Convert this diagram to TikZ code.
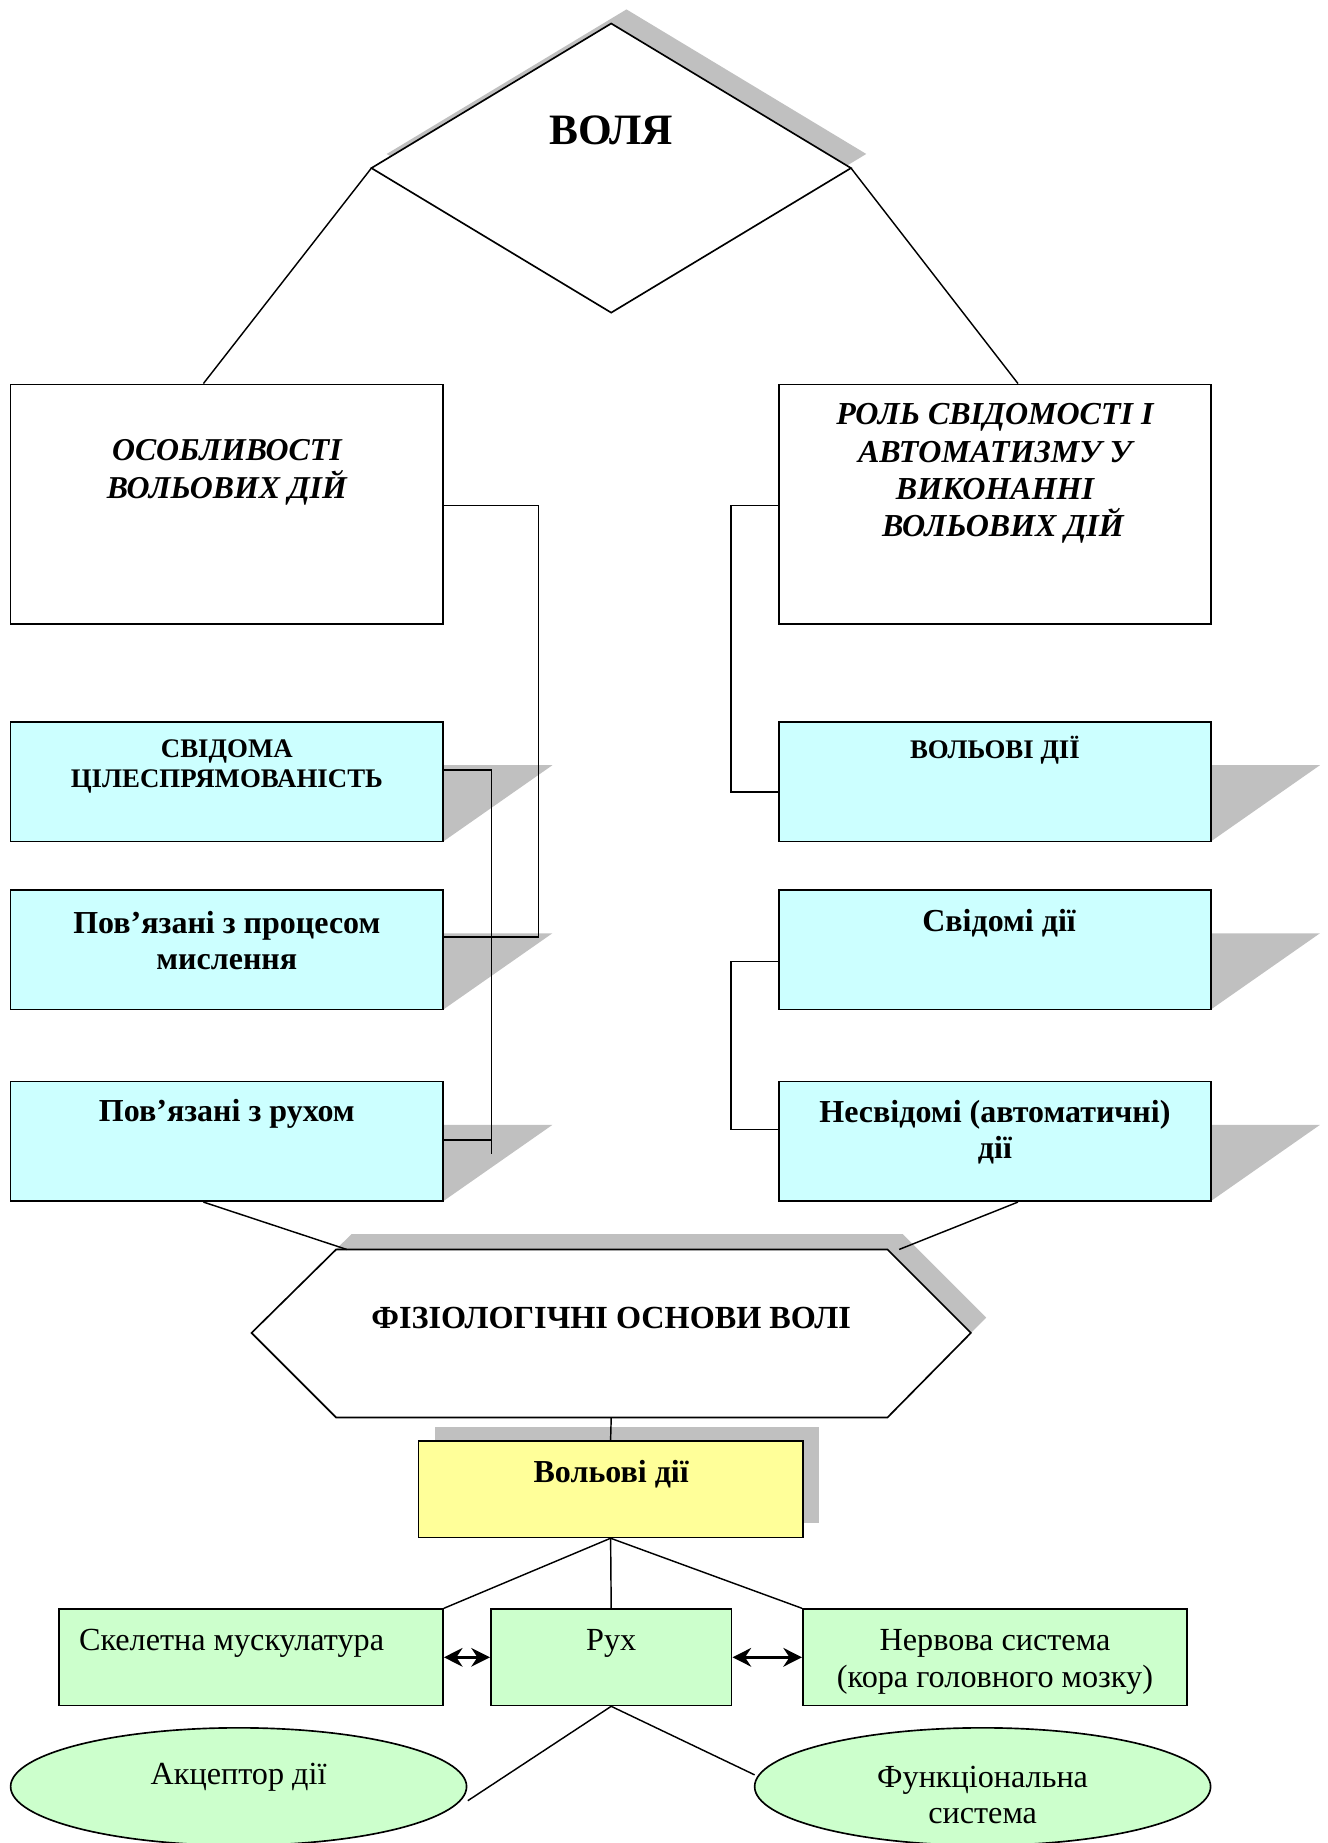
\documentclass[tikz,border=0pt]{standalone}
\usepackage{fontspec}
\setmainfont{Liberation Serif}
\usetikzlibrary{arrows.meta,calc,shapes.geometric}
\definecolor{cyanbox}{HTML}{CCFFFF}
\definecolor{greenbox}{HTML}{CCFFCC}
\definecolor{yellowbox}{HTML}{FFFF99}
\definecolor{shadowgray}{HTML}{C0C0C0}
\tikzset{
  outline/.style={draw=black, line width=0.8pt},
  conn/.style={draw=black, line width=0.7pt},
  plainbox/.style={outline, fill=white, minimum width=7.36cm, minimum height=4.08cm, inner sep=0pt},
  cyanrect/.style={outline, fill=cyanbox, minimum width=7.36cm, minimum height=2.04cm, inner sep=0pt},
  greenrect/.style={outline, fill=greenbox, minimum height=1.64cm, inner sep=0pt},
  greenoval/.style={outline, fill=greenbox, ellipse, minimum width=7.76cm, minimum height=2.0cm, inner sep=0pt},
  txt/.style={align=center, inner sep=0pt},
  dbl/.style={draw=black, line width=1.4pt, arrows={Stealth[length=9pt,width=9pt]-Stealth[length=9pt,width=9pt]}},
}
\begin{document}
\begin{tikzpicture}[x=0.02cm,y=-0.02cm]
\useasboundingbox (0,0) rectangle (1129,1568);

% ---------- diamond ВОЛЯ ----------
\coordinate (dT) at (520,20);
\coordinate (dL) at (316,143);
\coordinate (dR) at (724,143);
\coordinate (dB) at (520,266);
\fill[shadowgray] ($(dT)+(13,-12)$) -- ($(dR)+(13,-12)$) -- ($(dB)+(13,-12)$) -- ($(dL)+(13,-12)$) -- cycle;
\draw[outline, fill=white] (dT) -- (dR) -- (dB) -- (dL) -- cycle;
\node[txt, font=\fontsize{21}{25}\selectfont\bfseries] (volia) at (520,111) {ВОЛЯ};

% ---------- top boxes ----------
\node[plainbox] (osob) at (193,429) {};
\node[plainbox] (rol) at (846.5,429) {};
\node[txt, font=\fontsize{15.4}{18.1}\selectfont\bfseries\itshape] (osobt) at (193,402) {ОСОБЛИВОСТІ\\ВОЛЬОВИХ ДІЙ};
\node[txt, font=\fontsize{15.5}{18.1}\selectfont\bfseries\itshape] (rolt) at (846.5,403) {РОЛЬ СВІДОМОСТІ І\\АВТОМАТИЗМУ У\\ВИКОНАННІ\\\ \ ВОЛЬОВИХ ДІЙ};

\draw[conn] (dL) -- ($(osob.north west)!0.446!(osob.north east)$);
\draw[conn] (dR) -- ($(rol.north west)!0.553!(rol.north east)$);

% ---------- cyan boxes: shadows ----------
\foreach \yc in {665,808,971}{
  \fill[shadowgray] (377,\yc-14) -- (470,\yc-14) -- (377,\yc+51) -- cycle;
  \fill[shadowgray] (1030,\yc-14) -- (1123,\yc-14) -- (1030,\yc+51) -- cycle;
}

% ---------- connector corner points ----------
\coordinate (lb1) at (458,430);
\coordinate (lb2) at (458,797);
\coordinate (lc1) at (418,655);
\coordinate (lc2) at (418,970);
\coordinate (lcend) at (418,982);
\coordinate (rb1) at (622,430);
\coordinate (rb2) at (622,674);
\coordinate (rc1) at (622,818);
\coordinate (rc2) at (622,961);

% ---------- cyan boxes ----------
\node[cyanrect] (sv) at (193,665) {};
\node[cyanrect] (pmysl) at (193,808) {};
\node[cyanrect] (prukh) at (193,971) {};
\node[cyanrect] (vd) at (846.5,665) {};
\node[cyanrect] (svd) at (846.5,808) {};
\node[cyanrect] (nesv) at (846.5,971) {};

\node[txt, font=\fontsize{13}{14.7}\selectfont\bfseries] (svt) at (193,652) {СВІДОМА\\ЦІЛЕСПРЯМОВАНІСТЬ};
\node[txt, font=\fontsize{15.5}{17.6}\selectfont\bfseries] (pmyslt) at (193,800) {Пов’язані з процесом\\мислення};
\node[txt, font=\fontsize{15.5}{17.6}\selectfont\bfseries] (prukht) at (193,948) {Пов’язані з рухом};
\node[txt, font=\fontsize{13}{14.7}\selectfont\bfseries] (vdt) at (846.5,638) {ВОЛЬОВІ ДІЇ};
\node[txt, font=\fontsize{15.5}{17.6}\selectfont\bfseries] (svdt) at (850,785) {Свідомі дії};
\node[txt, font=\fontsize{15.5}{17.6}\selectfont\bfseries] (nesvt) at (846.5,963) {Несвідомі (автоматичні)\\дії};

% bus lines
\draw[conn] (osob.east |- lb1) -- (lb1) -- (lb2) -- (pmysl.east |- lb2);
\draw[conn] (sv.east |- lc1) -- (lc1) -- (lcend);
\draw[conn] (prukh.east |- lc2) -- (lc2);
\draw[conn] (rol.west |- rb1) -- (rb1) -- (rb2) -- (vd.west |- rb2);
\draw[conn] (svd.west |- rc1) -- (rc1) -- (rc2) -- (nesv.west |- rc2);

% ---------- hexagon ----------
\coordinate (h1) at (286,1063);
\coordinate (h2) at (755,1063);
\coordinate (h3) at (826,1134);
\coordinate (h4) at (755,1206);
\coordinate (h5) at (286,1206);
\coordinate (h6) at (214,1134);
\fill[shadowgray] ($(h1)+(13,-13)$) -- ($(h2)+(13,-13)$) -- ($(h3)+(13,-13)$) -- ($(h4)+(13,-13)$) -- ($(h5)+(13,-13)$) -- ($(h6)+(13,-13)$) -- cycle;
\draw[outline, fill=white] (h1) -- (h2) -- (h3) -- (h4) -- (h5) -- (h6) -- cycle;
\node[txt, font=\fontsize{15.6}{18}\selectfont\bfseries] (fiz) at (520,1121) {ФІЗІОЛОГІЧНІ ОСНОВИ ВОЛІ};
\coordinate (hl) at (295,1063);
\coordinate (hr) at (765,1063);
\coordinate (hb) at (520,1206);
\draw[conn] ($(prukh.south west)!0.446!(prukh.south east)$) -- (hl);
\draw[conn] ($(nesv.south west)!0.553!(nesv.south east)$) -- (hr);

% ---------- yellow box ----------
\fill[shadowgray] (370,1214) rectangle (697,1296);
\node[outline, fill=yellowbox, minimum width=6.54cm, minimum height=1.64cm, inner sep=0pt] (yel) at (519.5,1267) {};
\node[txt, font=\fontsize{15.5}{18}\selectfont\bfseries] (yelt) at (520,1254) {Вольові дії};
\draw[conn] (hb) -- (yel.north);

% ---------- green boxes ----------
\node[greenrect, minimum width=6.54cm] (skel) at (213.5,1410) {};
\node[greenrect, minimum width=4.1cm] (rukh) at (520,1410) {};
\node[greenrect, minimum width=6.54cm] (nerv) at (846.5,1410) {};
\node[txt, font=\fontsize{15.6}{18}\selectfont] (skelt) at (197,1398) {Скелетна мускулатура};
\node[txt, font=\fontsize{15.6}{18}\selectfont] (rukht) at (520,1398) {Рух};
\node[txt, font=\fontsize{15.6}{17.6}\selectfont] (nervt) at (846.5,1414) {Нервова система\\(кора головного мозку)};

\draw[conn] (yel.south) -- (skel.north east);
\draw[conn] (yel.south) -- (rukh.north);
\draw[conn] (yel.south) -- (nerv.north west);
\draw[dbl] (skel.east) -- (rukh.west);
\draw[dbl] (rukh.east) -- (nerv.west);

% ---------- ellipses ----------
\node[greenoval] (akc) at (203,1520) {};
\node[greenoval] (func) at (836,1520) {};
\node[txt, font=\fontsize{15.6}{18}\selectfont] (akct) at (203,1512) {Акцептор дії};
\node[txt, font=\fontsize{15.6}{17.6}\selectfont] (funct) at (836,1527) {Функціональна\\система};
\coordinate (ar) at (398,1532);
\coordinate (fl) at (642,1510);
\draw[conn] (rukh.south) -- (ar);
\draw[conn] (rukh.south) -- (fl);
\end{tikzpicture}
\end{document}
